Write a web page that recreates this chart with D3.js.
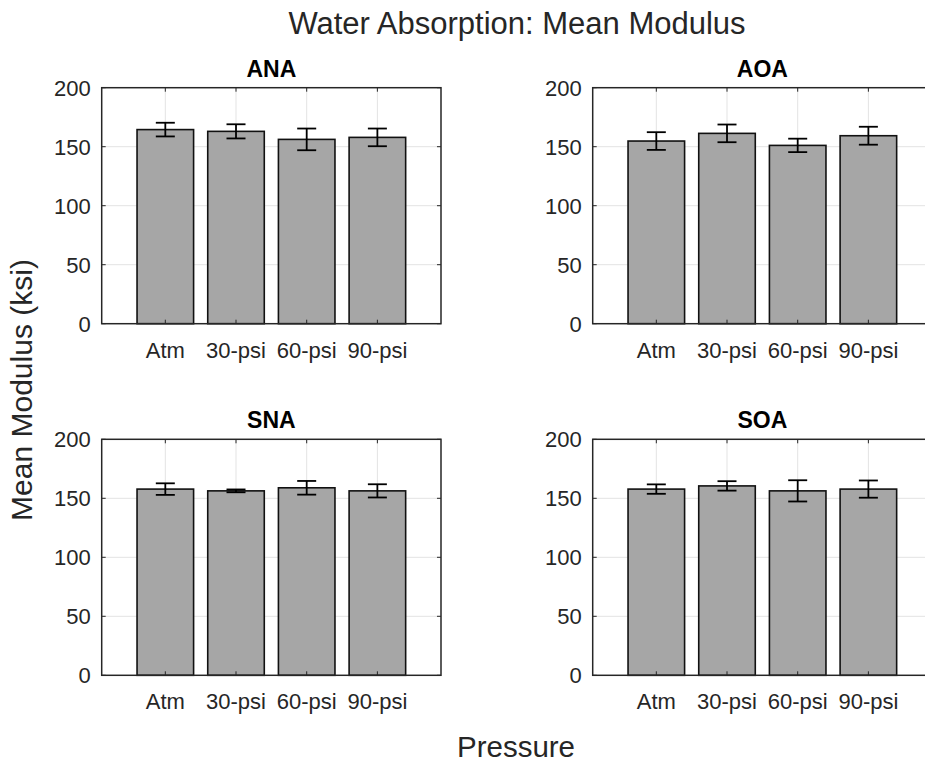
<!DOCTYPE html>
<meta charset="utf-8">
<style>
  body { margin: 0; background: #fff; }
  svg { display: block; font-family: "Liberation Sans", Arial, sans-serif; }
  .tick-label { fill: #262626; font-size: 22px; }
  .panel-title { fill: #000; font-size: 23px; font-weight: bold; }
</style>
<script src="https://d3js.org/d3.v7.min.js"></script>
<div id="chart"></div>
<script>
// categories and values
var categories = ["Atm", "30-psi", "60-psi", "90-psi"];
var panelNames = ["ANA", "AOA", "SNA", "SOA"];
var yTicks = [0, 50, 100, 150, 200];

var anaMean = [164.5, 163.0, 156.2, 157.9];
var anaErr  = [5.8, 6.0, 9.2, 7.5];
var aoaMean = [154.8, 161.3, 151.1, 159.3];
var aoaErr  = [7.5, 7.5, 5.7, 7.6];
var snaMean = [157.8, 156.3, 158.9, 156.3];
var snaErr  = [4.9, 1.2, 5.8, 5.6];
var soaMean = [157.8, 160.5, 156.3, 157.8];
var soaErr  = [4.0, 4.0, 9.0, 7.3];

var means = [anaMean, aoaMean, snaMean, soaMean];
var errs  = [anaErr, aoaErr, snaErr, soaErr];

var W = 925, H = 761;
var svg = d3.select("#chart").append("svg")
  .attr("width", W).attr("height", H);

// panel boxes (left, top) in a 2x2 grid
var plotW = 339.3, plotH = 236;
var lefts = [101.7, 592.7], tops = [87.7, 439.3];

panelNames.forEach(function(name, p) {
  var x0 = lefts[p % 2], y0 = tops[Math.floor(p / 2)];
  var g = svg.append("g").attr("transform", "translate(" + x0 + "," + y0 + ")");

  var x = d3.scaleLinear().domain([0.1, 4.9]).range([0, plotW]);
  var y = d3.scaleLinear().domain([0, 200]).range([plotH, 0]);

  var rows = categories.map(function(c, i) {
    return {cat: c, pos: i + 1, mean: means[p][i], err: errs[p][i]};
  });

  // grid
  g.selectAll(".hgrid").data(yTicks.slice(1, -1)).enter().append("line")
    .attr("x1", 0).attr("x2", plotW)
    .attr("y1", function(d) { return y(d); }).attr("y2", function(d) { return y(d); })
    .style("stroke", "#e3e3e3").style("stroke-width", 1);
  g.selectAll(".vgrid").data(rows).enter().append("line")
    .attr("x1", function(d) { return x(d.pos); }).attr("x2", function(d) { return x(d.pos); })
    .attr("y1", 0).attr("y2", plotH)
    .style("stroke", "#e3e3e3").style("stroke-width", 1);

  // bars
  var bw = x(0.8) - x(0);
  g.selectAll(".bar").data(rows).enter().append("rect")
    .attr("x", function(d) { return x(d.pos) - bw / 2; })
    .attr("y", function(d) { return y(d.mean); })
    .attr("width", bw)
    .attr("height", function(d) { return y(0) - y(d.mean); })
    .style("fill", "#a6a6a6").style("stroke", "#111").style("stroke-width", 1.6);

  // error bars
  var cap = 9.5;
  var eb = g.selectAll(".err").data(rows).enter().append("g")
    .style("stroke", "#000").style("stroke-width", 1.8);
  eb.append("line")
    .attr("x1", function(d) { return x(d.pos); }).attr("x2", function(d) { return x(d.pos); })
    .attr("y1", function(d) { return y(d.mean + d.err); })
    .attr("y2", function(d) { return y(d.mean - d.err); });
  eb.append("line")
    .attr("x1", function(d) { return x(d.pos) - cap; }).attr("x2", function(d) { return x(d.pos) + cap; })
    .attr("y1", function(d) { return y(d.mean + d.err); }).attr("y2", function(d) { return y(d.mean + d.err); });
  eb.append("line")
    .attr("x1", function(d) { return x(d.pos) - cap; }).attr("x2", function(d) { return x(d.pos) + cap; })
    .attr("y1", function(d) { return y(d.mean - d.err); }).attr("y2", function(d) { return y(d.mean - d.err); });

  // inward tick marks on all four sides
  var tk = 4;
  yTicks.forEach(function(t) {
    g.append("line").attr("x1", 0).attr("x2", tk).attr("y1", y(t)).attr("y2", y(t))
      .style("stroke", "#262626");
    g.append("line").attr("x1", plotW - tk).attr("x2", plotW).attr("y1", y(t)).attr("y2", y(t))
      .style("stroke", "#262626");
  });
  rows.forEach(function(d) {
    g.append("line").attr("x1", x(d.pos)).attr("x2", x(d.pos)).attr("y1", plotH).attr("y2", plotH - tk)
      .style("stroke", "#262626");
    g.append("line").attr("x1", x(d.pos)).attr("x2", x(d.pos)).attr("y1", 0).attr("y2", tk)
      .style("stroke", "#262626");
  });

  // box
  g.append("rect").attr("width", plotW).attr("height", plotH)
    .style("fill", "none").style("stroke", "#262626").style("stroke-width", 1.5);

  // tick labels
  g.selectAll(".ylab").data(yTicks).enter().append("text")
    .attr("class", "tick-label")
    .attr("x", -11).attr("y", function(d) { return y(d); })
    .attr("dy", "0.36em").attr("text-anchor", "end")
    .text(function(d) { return d; });
  g.selectAll(".xlab").data(rows).enter().append("text")
    .attr("class", "tick-label")
    .attr("x", function(d) { return x(d.pos); }).attr("y", plotH + 34)
    .attr("text-anchor", "middle")
    .text(function(d) { return d.cat; });

  g.append("text").attr("class", "panel-title")
    .attr("x", plotW / 2).attr("y", -11).attr("text-anchor", "middle")
    .text(name);
});

// figure-level labels
svg.append("text").attr("x", 517).attr("y", 33.5).attr("text-anchor", "middle")
  .style("font-size", "31px").style("fill", "#262626")
  .text("Water Absorption: Mean Modulus");
svg.append("text").attr("x", 516).attr("y", 756.5).attr("text-anchor", "middle")
  .style("font-size", "29.5px").style("fill", "#262626")
  .text("Pressure");
svg.append("text").attr("transform", "translate(32,390) rotate(-90)")
  .attr("text-anchor", "middle")
  .style("font-size", "30px").style("fill", "#262626")
  .text("Mean Modulus (ksi)");
</script>
